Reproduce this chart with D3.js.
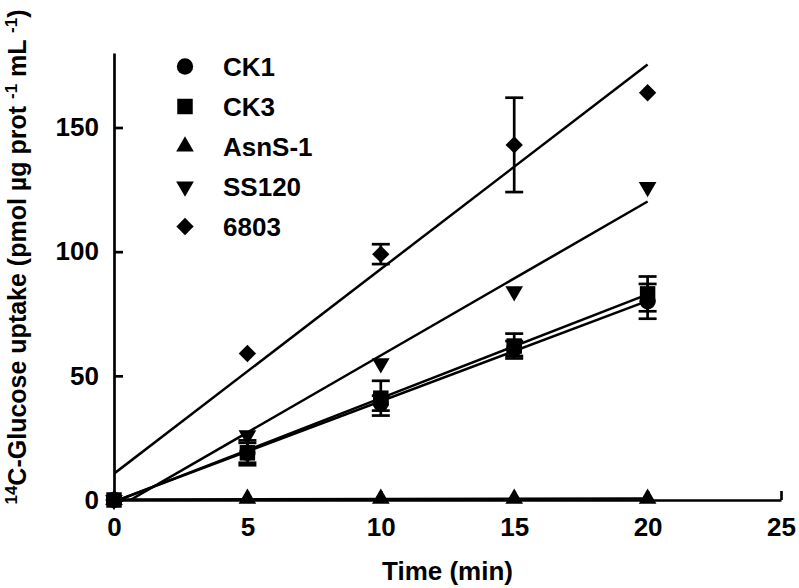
<!DOCTYPE html>
<html lang="en">
<head>
<meta charset="UTF-8">
<title>Glucose uptake</title>
<script src="https://d3js.org/d3.v7.min.js"></script>
<style>
    body { margin: 0; background: #fff; }
    text { font-family: "Liberation Sans", Arial, sans-serif; font-weight: bold; fill: #000; }
</style>
</head>
<body>
<div id="chart"></div>
<script>
    // data
    const times = [0, 5, 10, 15, 20];
    const ck1 = [0, 19, 39, 61, 80];
    const ck1Err = [0, 4, 3, 3, 7];
    const ck3 = [0, 19, 41, 62, 83];
    const ck3Err = [0, 5, 7, 5, 7];
    const asns1 = [0, 0.5, 0.5, 0.5, 0.5];
    const ss120 = [0, 26, 55, 84, 126];
    const s6803 = [0, 59, 99, 143, 164];
    const s6803Err = [0, 0, 4, 19, 0];
    const xTicks = [0, 5, 10, 15, 20, 25];
    const yTicks = [0, 50, 100, 150];

    const series = [
        { name: "CK1", values: ck1, err: ck1Err, symbol: d3.symbolCircle, size: 210, rot: 0 },
        { name: "CK3", values: ck3, err: ck3Err, symbol: d3.symbolSquare, size: 240, rot: 0 },
        { name: "AsnS-1", values: asns1, err: null, symbol: d3.symbolTriangle, size: 135, rot: 0 },
        { name: "SS120", values: ss120, err: null, symbol: d3.symbolTriangle, size: 135, rot: 180 },
        { name: "6803", values: s6803, err: s6803Err, symbol: d3.symbolSquare, size: 150, rot: 45 }
    ];

    const W = 799, H = 588;
    const margin = { left: 114, right: 18, top: 53, bottom: 88 };

    const svg = d3.select("#chart").append("svg")
        .attr("width", W).attr("height", H);

    const x = d3.scaleLinear().domain([0, 25]).range([margin.left, W - margin.right]);
    const y = d3.scaleLinear().domain([0, 180]).range([H - margin.bottom, margin.top]);

    svg.append("clipPath").attr("id", "plot")
        .append("rect")
        .attr("x", margin.left).attr("y", margin.top)
        .attr("width", W - margin.left - margin.right)
        .attr("height", H - margin.top - margin.bottom);

    // least squares fit for each series
    function fit(vals) {
        const mx = d3.mean(times), my = d3.mean(vals);
        let sxy = 0, sxx = 0;
        times.forEach((t, i) => { sxy += (t - mx) * (vals[i] - my); sxx += (t - mx) * (t - mx); });
        const b = sxy / sxx;
        return { b: b, a: my - b * mx };
    }

    const lines = svg.append("g").attr("clip-path", "url(#plot)");
    series.forEach(s => {
        const f = fit(s.values);
        lines.append("line")
            .attr("x1", x(0)).attr("y1", y(f.a))
            .attr("x2", x(20)).attr("y2", y(f.a + f.b * 20))
            .attr("stroke", "#000").attr("stroke-width", 2.5);
    });

    // axes
    const xAxis = svg.append("g")
        .attr("transform", `translate(0,${y(0)})`)
        .call(d3.axisBottom(x).tickValues(xTicks).tickSizeInner(-9).tickSizeOuter(0).tickPadding(18));
    const yAxis = svg.append("g")
        .attr("transform", `translate(${x(0)},0)`)
        .call(d3.axisLeft(y).tickValues(yTicks).tickSizeInner(-9).tickSizeOuter(0).tickPadding(15));
    [xAxis, yAxis].forEach(g => {
        g.select(".domain").attr("stroke-width", 2.7);
        g.selectAll(".tick line").attr("stroke-width", 2.7);
        g.selectAll(".tick text").style("font-size", "26px").style("font-family", "Liberation Sans, Arial, sans-serif").style("font-weight", "bold");
    });

    // error bars
    const bars = svg.append("g");
    series.filter(s => s.err).forEach(s => {
        s.values.forEach((v, i) => {
            const e = s.err[i];
            if (!e) return;
            const cx = x(times[i]);
            bars.append("line").attr("x1", cx).attr("x2", cx)
                .attr("y1", y(v - e)).attr("y2", y(v + e))
                .attr("stroke", "#000").attr("stroke-width", 2.7);
            [v - e, v + e].forEach(yy => {
                bars.append("line").attr("x1", cx - 9).attr("x2", cx + 9)
                    .attr("y1", y(yy)).attr("y2", y(yy))
                    .attr("stroke", "#000").attr("stroke-width", 2.7);
            });
        });
    });

    // markers
    const marks = svg.append("g");
    series.forEach(s => {
        const sym = d3.symbol().type(s.symbol).size(s.size);
        marks.selectAll(null).data(s.values).enter()
            .append("path")
            .attr("d", sym)
            .attr("transform", (d, i) => `translate(${x(times[i])},${y(d)}) rotate(${s.rot})`)
            .attr("fill", "#000");
    });

    // legend
    const legend = svg.append("g").attr("transform", "translate(185,66.5)");
    series.forEach((s, i) => {
        const row = legend.append("g").attr("transform", `translate(0,${i * 40})`);
        row.append("path")
            .attr("d", d3.symbol().type(s.symbol).size(s.size))
            .attr("transform", `rotate(${s.rot})`)
            .attr("fill", "#000");
        row.append("text").attr("x", 38).attr("y", 9)
            .style("font-size", "26px").text(s.name);
    });

    // axis titles
    svg.append("text")
        .attr("x", (x(0) + x(25)) / 2).attr("y", 580)
        .attr("text-anchor", "middle")
        .style("font-size", "26px")
        .text("Time (min)");

    const yt = svg.append("text")
        .attr("transform", `translate(26,257) rotate(-90)`)
        .attr("text-anchor", "middle")
        .style("font-size", "25px");
    yt.append("tspan").style("font-size", "17px").attr("dy", "-9").text("14");
    yt.append("tspan").attr("dy", "9").text("C-Glucose uptake (pmol µg prot ");
    yt.append("tspan").style("font-size", "17px").attr("dy", "-9").text("-1");
    yt.append("tspan").attr("dy", "9").text(" mL ");
    yt.append("tspan").style("font-size", "17px").attr("dy", "-9").text("-1");
    yt.append("tspan").attr("dy", "9").text(")");
</script>
</body>
</html>
